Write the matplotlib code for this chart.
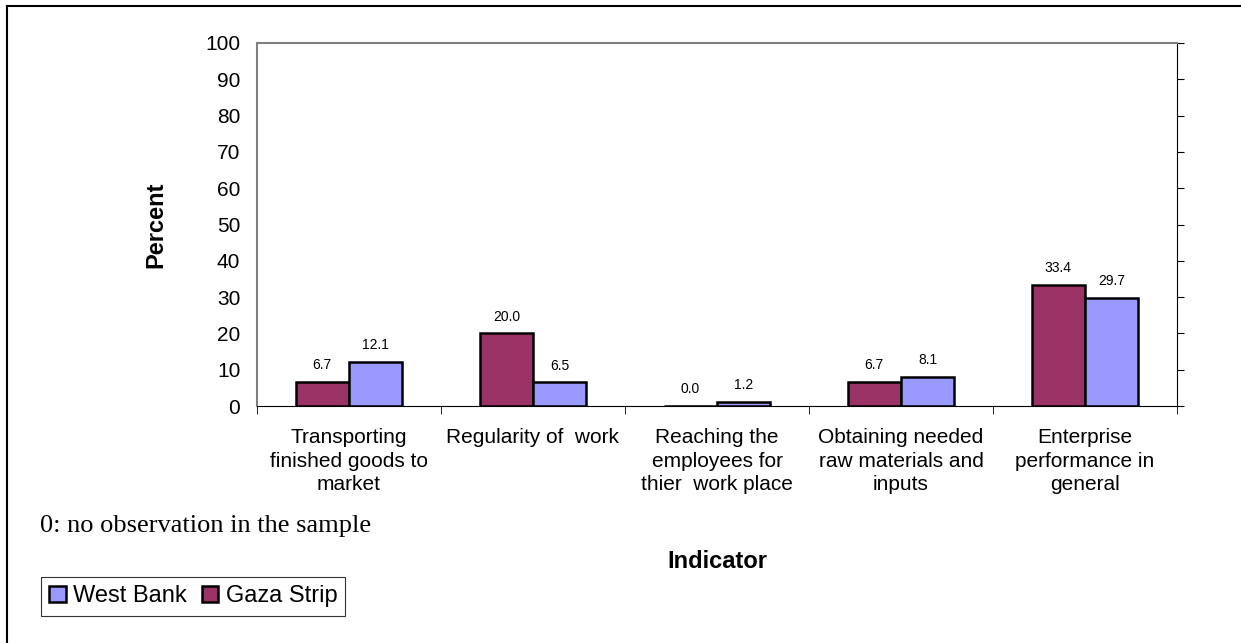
import matplotlib.pyplot as plt
import numpy as np
from matplotlib.lines import Line2D
from matplotlib.patches import Patch

# data
indicators = ["Transporting\nfinished goods to\nmarket",
              "Regularity of  work",
              "Reaching the\nemployees for\nthier  work place",
              "Obtaining needed\nraw materials and\ninputs",
              "Enterprise\nperformance in\ngeneral"]
gaza_strip = [6.7, 20.0, 0.0, 6.7, 33.4]
west_bank = [12.1, 6.5, 1.2, 8.1, 29.7]
y_ticks = list(range(0, 101, 10))

gaza_color = "#993366"
wb_color = "#9999FF"

plt.rcParams['font.family'] = ['Liberation Sans', 'DejaVu Sans']

fig = plt.figure(figsize=(12.41, 6.43), dpi=100)
ax = fig.add_axes([257 / 1241, 1 - 406 / 643, 920 / 1241, 363 / 643])

x = np.arange(len(indicators))
w = 0.29
b1 = ax.bar(x - w / 2, gaza_strip, w, color=gaza_color, edgecolor='black', linewidth=1.8)
b2 = ax.bar(x + w / 2, west_bank, w, color=wb_color, edgecolor='black', linewidth=1.8)

for bars in (b1, b2):
    for rect in bars:
        h = rect.get_height()
        ax.annotate(f"{h:.1f}", (rect.get_x() + rect.get_width() / 2, h),
                    xytext=(0, 7), textcoords='offset points',
                    ha='center', va='bottom', fontsize=10)

ax.set_xlim(-0.5, len(indicators) - 0.5)
ax.set_ylim(0, 100)
ax.set_yticks(y_ticks)
ax.tick_params(axis='y', left=False, right=True, direction='out', length=5,
               labelsize=15, pad=7, color='black')

ax.set_xticks(x)
ax.set_xticklabels(indicators, fontsize=15, linespacing=1.3)
ax.set_xticks(np.arange(-0.5, len(indicators)), minor=True)
ax.tick_params(axis='x', which='major', length=0, pad=16)
ax.tick_params(axis='x', which='minor', length=6, direction='out', color='black')

for side in ('top', 'left'):
    ax.spines[side].set_color('#808080')
    ax.spines[side].set_linewidth(1.5)
ax.spines['right'].set_color('black')
ax.spines['bottom'].set_color('black')

fig.text(156 / 1241, 1 - 225 / 643, "Percent", fontsize=17, fontweight='bold',
         rotation=90, ha='center', va='center')
fig.text(717 / 1241, 1 - 561 / 643, "Indicator", fontsize=17, fontweight='bold',
         ha='center', va='center')

fig.text(40 / 1241, 1 - 526 / 643, "0: no observation in the sample",
         family=['Liberation Serif', 'DejaVu Serif'], fontsize=19, ha='left', va='center')

handles = [Patch(facecolor=wb_color, edgecolor='black', linewidth=1.8),
           Patch(facecolor=gaza_color, edgecolor='black', linewidth=1.8)]
leg = fig.legend(handles, ["West Bank", "Gaza Strip"], ncol=2,
                 loc='upper left', bbox_to_anchor=(41 / 1241, 1 - 577 / 643),
                 fontsize=17, frameon=True, fancybox=False, borderpad=0.35,
                 handlelength=0.7, handleheight=0.7, handletextpad=0.3,
                 columnspacing=0.65, borderaxespad=0)
leg.get_frame().set_edgecolor('black')
leg.get_frame().set_linewidth(0.8)

# outer chart frame (top and left edges visible)
fig.add_artist(Line2D([7 / 1241, 1], [1 - 6 / 643, 1 - 6 / 643], color='black', linewidth=1.5))
fig.add_artist(Line2D([7 / 1241, 7 / 1241], [0, 1 - 6 / 643], color='black', linewidth=1.5))

fig.savefig("out.png", dpi=100)
